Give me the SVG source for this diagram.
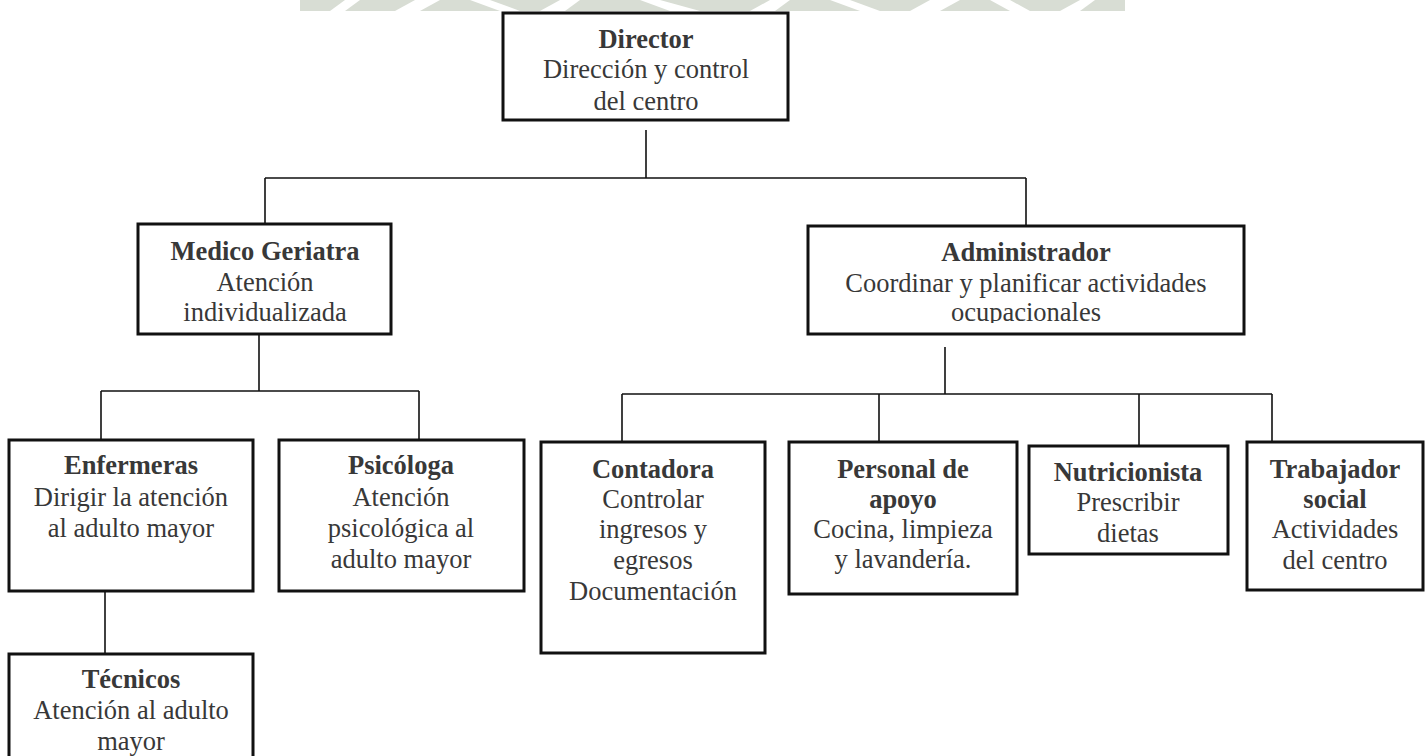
<svg xmlns="http://www.w3.org/2000/svg" width="1425" height="756" viewBox="0 0 1425 756">
<defs>
<style>
.box{fill:#fff;stroke:#111;stroke-width:3}
.con{fill:none;stroke:#111;stroke-width:1.6}
text{font-family:"Liberation Serif","Times New Roman",serif;font-size:26.5px;fill:#383838;text-anchor:middle}
.b{font-weight:bold}
</style>
<clipPath id="admClip"><rect x="808" y="226" width="436" height="97"/></clipPath>
</defs>
<rect width="1425" height="756" fill="#fff"/>
<g id="watermark">
<rect x="300" y="0" width="825" height="11" fill="#d8ddd4"/>
<polygon points="330,11 345,0 360,0 345,11" fill="#fff"/>
<polygon points="395,11 415,0 440,0 420,11" fill="#fff"/>
<polygon points="470,0 500,11 520,11 490,0" fill="#fff"/>
<polygon points="540,11 560,0 580,0 565,11" fill="#fff"/>
<polygon points="640,0 670,11 700,11 660,0" fill="#fff"/>
<polygon points="750,11 770,0 790,0 775,11" fill="#fff"/>
<polygon points="830,0 860,11 880,11 850,0" fill="#fff"/>
<polygon points="910,11 930,0 960,0 940,11" fill="#fff"/>
<polygon points="990,0 1010,11 1030,11 1010,0" fill="#fff"/>
<polygon points="1060,11 1080,0 1095,0 1080,11" fill="#fff"/>
</g>
<g id="connectors">
<path class="con" d="M646 130V178M265 178H1026M265 178V224M1026 178V226"/>
<path class="con" d="M259 334V391M101 391H419M101 391V440M419 391V440"/>
<path class="con" d="M105 591V654"/>
<path class="con" d="M945 347V394M622 394H1272M622 394V442M879 394V442M1139 394V446M1272 394V442"/>
</g>
<g id="director">
<rect class="box" x="503" y="13" width="285" height="107"/>
<text x="646" y="48" class="b">Director</text>
<text x="646" y="78">Dirección y control</text>
<text x="646" y="110">del centro</text>
</g>
<g id="medico">
<rect class="box" x="138" y="224" width="253" height="110"/>
<text x="265" y="260" class="b">Medico Geriatra</text>
<text x="265" y="291">Atención</text>
<text x="265" y="321">individualizada</text>
</g>
<g id="administrador">
<rect class="box" x="808" y="226" width="436" height="108"/>
<text x="1026" y="261" class="b">Administrador</text>
<text x="1026" y="292">Coordinar y planificar actividades</text>
<text x="1026" y="321" clip-path="url(#admClip)">ocupacionales</text>
</g>
<g id="enfermeras">
<rect class="box" x="9" y="440" width="244" height="151"/>
<text x="131" y="474" class="b">Enfermeras</text>
<text x="131" y="506">Dirigir la atención</text>
<text x="131" y="537">al adulto mayor</text>
</g>
<g id="psicologa">
<rect class="box" x="279" y="440" width="245" height="151"/>
<text x="401" y="474" class="b">Psicóloga</text>
<text x="401" y="506">Atención</text>
<text x="401" y="537">psicológica al</text>
<text x="401" y="568">adulto mayor</text>
</g>
<g id="tecnicos">
<rect class="box" x="9" y="654" width="244" height="110"/>
<text x="131" y="688" class="b">Técnicos</text>
<text x="131" y="719">Atención al adulto</text>
<text x="131" y="750">mayor</text>
</g>
<g id="contadora">
<rect class="box" x="541" y="442" width="224" height="211"/>
<text x="653" y="478" class="b">Contadora</text>
<text x="653" y="508">Controlar</text>
<text x="653" y="538">ingresos y</text>
<text x="653" y="569">egresos</text>
<text x="653" y="600">Documentación</text>
</g>
<g id="personal">
<rect class="box" x="789" y="442" width="228" height="152"/>
<text x="903" y="478" class="b">Personal de</text>
<text x="903" y="508" class="b">apoyo</text>
<text x="903" y="538">Cocina, limpieza</text>
<text x="903" y="568">y lavandería.</text>
</g>
<g id="nutricionista">
<rect class="box" x="1029" y="446" width="199" height="108"/>
<text x="1128" y="481" class="b">Nutricionista</text>
<text x="1128" y="511">Prescribir</text>
<text x="1128" y="542">dietas</text>
</g>
<g id="trabajador">
<rect class="box" x="1247" y="442" width="176" height="148"/>
<text x="1335" y="478" class="b">Trabajador</text>
<text x="1335" y="508" class="b">social</text>
<text x="1335" y="538">Actividades</text>
<text x="1335" y="569">del centro</text>
</g>
</svg>
